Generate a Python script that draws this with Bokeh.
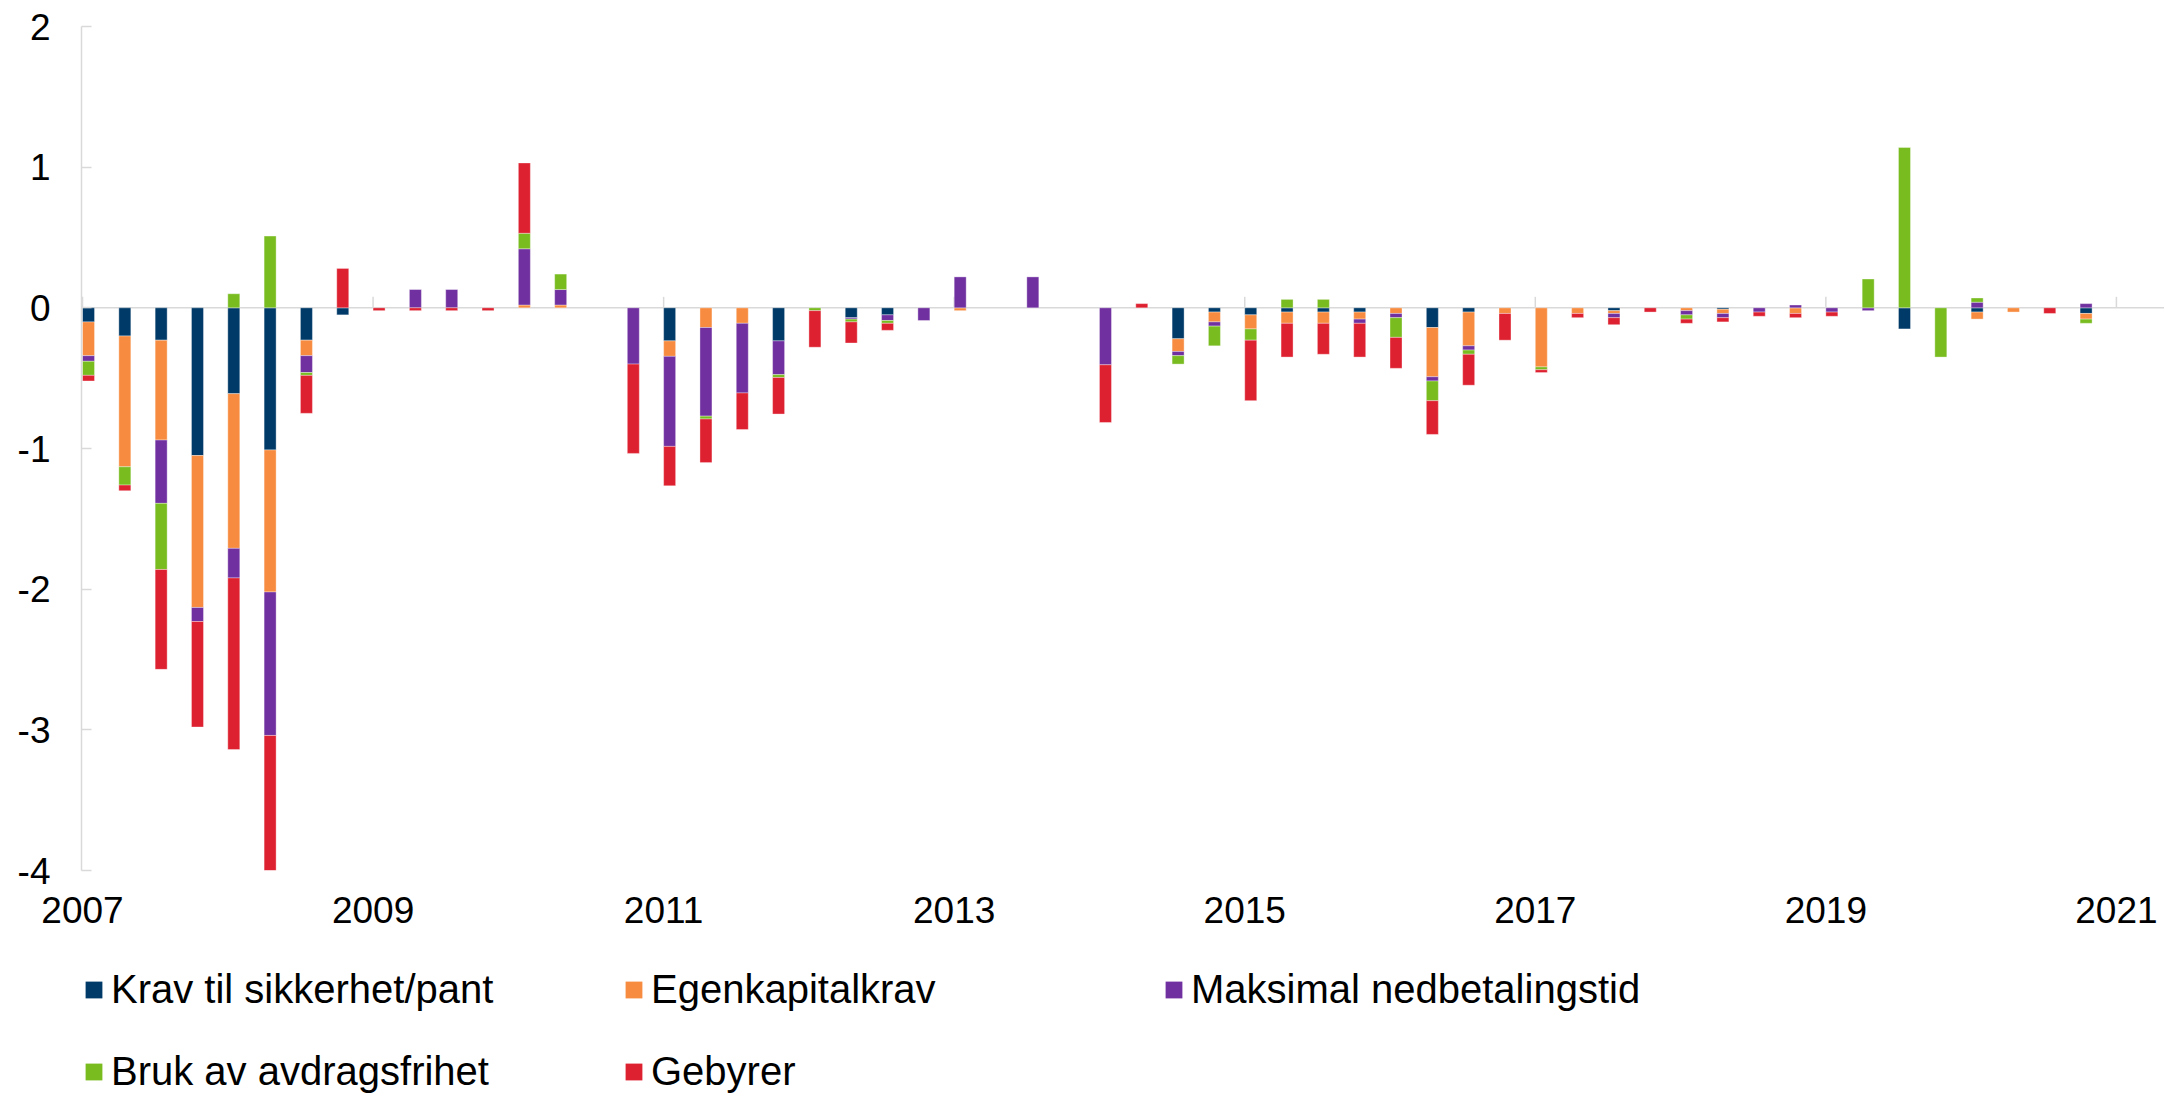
import numpy as np
from bokeh.plotting import figure
from bokeh.layouts import column
from bokeh.models import ColumnDataSource, Range1d, FixedTicker, Span, Legend, LegendItem
from bokeh.embed import file_html
from bokeh.resources import INLINE

# ---------------- data (quarterly, 2007Q1 - 2020Q4) ----------------
years = list(range(2007, 2021))
quarter_offsets = [0.0, 0.25, 0.5, 0.75]
x_ticks = [2007, 2009, 2011, 2013, 2015, 2017, 2019, 2021]
y_ticks = [-4, -3, -2, -1, 0, 1, 2]

labels = ["Krav til sikkerhet/pant", "Egenkapitalkrav", "Maksimal nedbetalingstid",
          "Bruk av avdragsfrihet", "Gebyrer"]
colors = ["#003A68", "#F78C40", "#7030A0", "#78BC20", "#DE2130"]

krav = [-0.10, -0.20, -0.23, -1.05,  -0.61, -1.01, -0.23, -0.05,
        0, 0, 0, 0,                  0, 0, 0, 0,
        -0.235, 0, 0, -0.235,        0, -0.07, -0.05, 0,
        0, 0, 0, 0,                  0, 0, -0.22, -0.03,
        -0.05, -0.03, -0.03, -0.03,  0, -0.14, -0.03, 0,
        0, 0, -0.02, 0,              0, -0.01, 0, 0,
        0, 0, -0.15, 0,              -0.03, 0, 0, -0.04]
egenkapital = [-0.24, -0.93, -0.71, -1.08,  -1.10, -1.01, -0.11, 0,
               0, 0, 0, 0,                  0.02, 0.02, 0, 0,
               -0.11, -0.14, -0.11, 0,      0, 0, 0, 0,
               -0.02, 0, 0, 0,              0, 0, -0.09, -0.07,
               -0.10, -0.08, -0.08, -0.05,  -0.04, -0.35, -0.24, -0.04,
               -0.42, -0.04, -0.02, 0,      -0.02, -0.03, 0, -0.04,
               0, 0, 0, 0,                  -0.05, -0.03, 0, -0.04]
maksimal = [-0.04, 0, -0.45, -0.10,    -0.21, -1.02, -0.12, 0,
            0, 0.13, 0.13, 0,          0.40, 0.11, 0, -0.40,
            -0.64, -0.63, -0.495, -0.24,  0, -0.01, -0.04, -0.09,
            0.22, 0, 0.22, 0,          -0.405, 0, -0.03, -0.03,
            0, 0, 0, -0.03,            -0.03, -0.03, -0.03, 0,
            0, 0, -0.03, 0,            -0.03, -0.03, -0.03, 0.02,
            -0.03, -0.02, 0, 0,        0.04, 0, 0, 0.03]
avdragsfrihet = [-0.10, -0.13, -0.47, 0,   0.10, 0.51, -0.02, 0,
                 0, 0, 0, 0,               0.11, 0.11, 0, 0,
                 0, -0.02, 0, -0.02,       -0.02, -0.02, -0.02, 0,
                 0, 0, 0, 0,               0, 0, -0.06, -0.14,
                 -0.08, 0.06, 0.06, 0,     -0.14, -0.14, -0.03, 0,
                 -0.02, 0, 0, 0,           -0.03, 0, 0, 0,
                 0, 0.205, 1.14, -0.35,    0.03, 0, 0, -0.03]
gebyrer = [-0.04, -0.04, -0.71, -0.75,   -1.22, -0.96, -0.27, 0.28,
           -0.02, -0.02, -0.02, -0.02,   0.50, 0, 0, -0.635,
           -0.28, -0.31, -0.26, -0.26,   -0.26, -0.15, -0.05, 0,
           0, 0, 0, 0,                   -0.41, 0.03, 0, 0,
           -0.43, -0.24, -0.22, -0.24,   -0.22, -0.24, -0.22, -0.19,
           -0.02, -0.03, -0.05, -0.03,   -0.03, -0.03, -0.03, -0.03,
           -0.03, 0, 0, 0,               0, 0, -0.04, 0]

series = [krav, egenkapital, maksimal, avdragsfrihet, gebyrer]

# ---------------- main chart ----------------
FONT = "Liberation Sans"
BAR_W = 0.0826
quarter_t = np.array([y + q for y in years for q in quarter_offsets])
x_center = quarter_t + BAR_W / 2

p = figure(width=2164, height=964,
           x_range=Range1d(2006.993, 2021.331), y_range=Range1d(-4, 2),
           output_backend="svg", toolbar_location=None,
           min_border_left=81, min_border_right=0, min_border_top=26,
           min_border_bottom=94)
p.outline_line_color = None
p.xgrid.visible = False
p.ygrid.visible = False
p.background_fill_color = "white"
p.border_fill_color = "white"

# zero line (drawn behind bars)
p.add_layout(Span(location=0, dimension="width", line_color="#d9d9d9",
                  line_width=1.5, level="underlay"))
# x tick marks sitting on the zero line, pointing up
tick_len = 11 / (844 / 6)
p.segment(x0=x_ticks, x1=x_ticks, y0=[0] * len(x_ticks), y1=[tick_len] * len(x_ticks),
          line_color="#d9d9d9", line_width=1.5, level="underlay")

sources = []
pos_base = np.zeros(len(quarter_t))
neg_base = np.zeros(len(quarter_t))
for vals, col in zip(series, colors):
    v = np.array(vals, dtype=float)
    bottom = np.where(v >= 0, pos_base, neg_base)
    top = bottom + v
    pos_base = np.where(v > 0, top, pos_base)
    neg_base = np.where(v < 0, top, neg_base)
    mask = v != 0
    src = ColumnDataSource(dict(x=x_center[mask], top=top[mask], bottom=bottom[mask]))
    sources.append(src)
    p.vbar(x="x", width=BAR_W, top="top", bottom="bottom", source=src,
           fill_color=col, line_color="white", line_alpha=0.35, line_width=1)

xa = p.xaxis[0]
xa.ticker = FixedTicker(ticks=x_ticks)
xa.major_label_overrides = {t: str(t) for t in x_ticks}
xa.axis_line_color = None
xa.major_tick_line_color = None
xa.minor_tick_line_color = None
xa.major_tick_in = 0
xa.major_tick_out = 0
xa.major_label_standoff = 26
xa.major_label_text_font = FONT
xa.major_label_text_font_size = "37px"
xa.major_label_text_color = "black"

ya = p.yaxis[0]
ya.ticker = FixedTicker(ticks=y_ticks)
ya.major_label_overrides = {t: str(t) for t in y_ticks}
ya.axis_line_color = "#d9d9d9"
ya.axis_line_width = 1.5
ya.major_tick_line_color = "#d9d9d9"
ya.major_tick_line_width = 1.5
ya.major_tick_in = 10
ya.major_tick_out = 0
ya.minor_tick_line_color = None
ya.major_label_standoff = 31
ya.major_label_text_font = FONT
ya.major_label_text_font_size = "37px"
ya.major_label_text_color = "black"

# ---------------- legend strip below the chart ----------------
lg = figure(width=2164, height=130, x_range=Range1d(0, 1), y_range=Range1d(0, 1),
            x_axis_location=None, y_axis_location=None,
            output_backend="svg", toolbar_location=None,
            min_border_left=81, min_border_right=0, min_border_top=0, min_border_bottom=0)
lg.outline_line_color = None
lg.xgrid.visible = False
lg.ygrid.visible = False
lg.background_fill_color = "white"
lg.border_fill_color = "white"

items = []
for src, col, lab in zip(sources, colors, labels):
    # same series data; it lies outside this strip's ranges, only the legend swatch shows
    r = lg.vbar(x="x", width=BAR_W, top="top", bottom="bottom", source=src,
                fill_color=col, line_color=None)
    items.append(LegendItem(label=lab, renderers=[r]))

legend = Legend(items=items, orientation="horizontal", ncols=3,
                location="top_left", margin=2, padding=0,
                border_line_color=None, background_fill_alpha=0,
                glyph_width=21, glyph_height=21, label_standoff=7,
                label_width=476, label_height=46, spacing=36,
                label_text_font=FONT, label_text_font_size="40px",
                label_text_color="black")
lg.add_layout(legend)

layout = column(p, lg, spacing=0)
open("out.html", "w").write(file_html(layout, INLINE))
